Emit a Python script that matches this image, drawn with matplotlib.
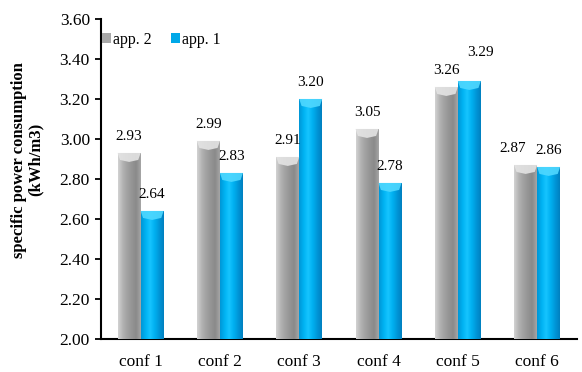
import numpy as np
import matplotlib
matplotlib.use('Agg')
from matplotlib import pyplot as plt
from matplotlib.colors import LinearSegmentedColormap
from matplotlib.patches import Polygon

plt.rcParams['font.family'] = ['Liberation Serif', 'DejaVu Serif']

# data
configs = ['conf 1', 'conf 2', 'conf 3', 'conf 4', 'conf 5', 'conf 6']
app2 = [2.93, 2.99, 2.91, 3.05, 3.26, 2.87]
app1 = [2.64, 2.83, 3.20, 2.78, 3.29, 2.86]

gray_cmap = LinearSegmentedColormap.from_list('g', ['#d2d2d2', '#b4b4b4', '#a2a2a2', '#959595', '#8a8a8a', '#a6a6a6'])
cyan_cmap = LinearSegmentedColormap.from_list('c', ['#0096d6', '#00b2f2', '#16c4ff', '#00b0f0', '#0096d8', '#0080c0'])

fig, ax = plt.subplots(figsize=(5.82, 3.72), dpi=100)
fig.subplots_adjust(left=0.1735, right=0.991, bottom=0.089, top=0.949)

x = np.arange(len(configs))
w = 0.29
base = 2.0
bars2 = ax.bar(x - w / 2, np.array(app2) - base, w, bottom=base, color='#a0a0a0', label='app. 2', zorder=2)
bars1 = ax.bar(x + w / 2, np.array(app1) - base, w, bottom=base, color='#00b0f0', label='app. 1', zorder=2)

grad = np.linspace(0, 1, 64).reshape(1, -1)


def shade(bars, cmap, cap_col):
    for b in bars:
        x0, y0 = b.get_x(), b.get_y()
        x1, y1 = x0 + b.get_width(), y0 + b.get_height()
        im = ax.imshow(grad, cmap=cmap, aspect='auto', extent=(x0, x1, y0, y1), zorder=3)
        im.set_clip_path(b)
        b.set_facecolor('none')
        b.set_edgecolor('none')
        # lighter cap at the top of the cylinder
        cap = Polygon([(x0, y1), (x1, y1), (x1 - 0.03, y1 - 0.035), (x0 + 0.5 * (x1 - x0), y1 - 0.045),
                       (x0 + 0.03, y1 - 0.035)], closed=True, facecolor=cap_col, edgecolor='none', zorder=4, alpha=0.9)
        ax.add_patch(cap)


shade(bars2, gray_cmap, '#e4e4e4')
shade(bars1, cyan_cmap, '#4fd8ff')

# label nudges (points) where labels of neighbouring bars would collide
nudge2 = {5: (-9, 0)}
nudge1 = {4: (8, 9)}
for i, (xi, v) in enumerate(zip(x - w / 2, app2)):
    dx, dy = nudge2.get(i, (0, 0))
    ax.annotate(f'{v:.2f}', (xi, v), xytext=(dx, 7 + dy), textcoords='offset points', ha='center', va='bottom', fontsize=11)
for i, (xi, v) in enumerate(zip(x + w / 2, app1)):
    dx, dy = nudge1.get(i, (0, 0))
    ax.annotate(f'{v:.2f}', (xi, v), xytext=(dx, 7 + dy), textcoords='offset points', ha='center', va='bottom', fontsize=11)

ax.set_xlim(-0.5, len(configs) - 0.5)
ax.set_ylim(2.0, 3.6)
ax.set_yticks(np.arange(2.0, 3.61, 0.2))
ax.set_yticklabels([f'{t:.2f}' for t in np.arange(2.0, 3.61, 0.2)])
ax.set_xticks(x)
ax.set_xticklabels(configs)
ax.tick_params(axis='x', length=0, labelsize=12.5, pad=11)
ax.tick_params(axis='y', direction='out', length=4, width=1.3, labelsize=12.5, pad=4)
for s in ['top', 'right']:
    ax.spines[s].set_visible(False)
ax.spines['left'].set_linewidth(1.5)
ax.spines['bottom'].set_linewidth(1.5)

ax.set_ylabel('specific power consumption\n(kWh/m3)', fontsize=12, fontweight='bold', linespacing=1.05)
ax.yaxis.set_label_coords(-0.12, 0.56)

handles = [plt.Rectangle((0, 0), 1, 1, facecolor='#a8a8a8'), plt.Rectangle((0, 0), 1, 1, facecolor='#00a8e8')]
ax.legend(handles, ['app. 2', 'app. 1'], loc='center left', bbox_to_anchor=(-0.012, 0.935), ncol=2, frameon=False,
          handlelength=0.6, handleheight=0.6, handletextpad=0.1, columnspacing=1.2, fontsize=11.5, borderaxespad=0)

fig.savefig('out.png', dpi=100)
